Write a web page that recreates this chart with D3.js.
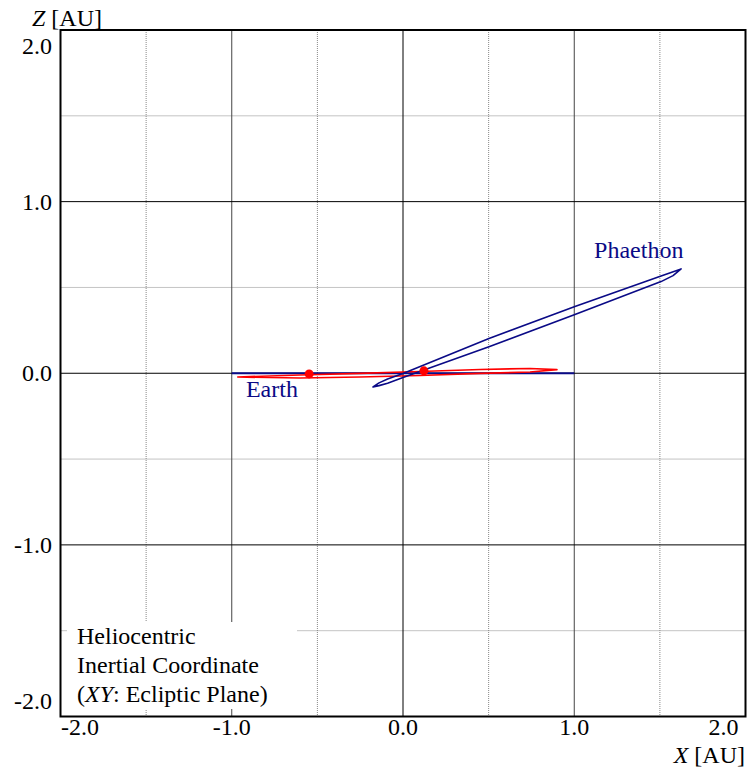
<!DOCTYPE html>
<html>
<head>
<meta charset="utf-8">
<script src="https://cdn.jsdelivr.net/npm/d3@7"></script>
<style>
  body { margin: 0; background: #fff; }
  text { font-family: "Liberation Serif", "Times New Roman", serif; font-size: 24px; }
</style>
</head>
<body>
<div id="chart"></div>
<script>
// data (AU)
var majorTicks = [-2, -1, 0, 1, 2];
var minorTicks = [-1.5, -0.5, 0.5, 1.5];
var tickLabels = ["-2.0", "-1.0", "0.0", "1.0", "2.0"];

// Earth orbit, edge on in the XZ plane
var earthOrbit = [[-1.0, 0], [1.0, 0]];

// Phaethon orbit outline (upper branch then lower branch)
var phaethonOrbit = [
  [-0.175, -0.080], [-0.140, -0.056], [-0.090, -0.034], [0.0, -0.001], [0.502, 0.203],
  [1.004, 0.389], [1.507, 0.567], [1.624, 0.608],
  [1.577, 0.569], [1.507, 0.534], [1.004, 0.342], [0.502, 0.155],
  [0.0, -0.025], [-0.090, -0.058], [-0.140, -0.072]
];

// red orbit outline
var redOrbit = [
  [-0.965, -0.022], [-0.601, -0.010], [-0.251, -0.001], [0.099, 0.010],
  [0.450, 0.022], [0.742, 0.028], [0.899, 0.021],
  [0.742, 0.007], [0.450, -0.001], [0.099, -0.013], [-0.251, -0.022],
  [-0.601, -0.028]
];

// red bodies
var redBodies = [[-0.548, -0.004], [0.122, 0.014]];

var width = 755, height = 773;
var pLeft = 60.5, pRight = 745.5, pTop = 30, pBottom = 716.5;
var navy = "#0a0a86";

var x = d3.scaleLinear().domain([-2, 2]).range([pLeft, pRight]);
var y = d3.scaleLinear().domain([-2, 2]).range([pBottom, pTop]);

var svg = d3.select("#chart").append("svg").attr("width", width).attr("height", height);

// grid
var grid = svg.append("g");
grid.selectAll(".minx").data(minorTicks).enter().append("line")
  .attr("x1", function(d) { return x(d); }).attr("x2", function(d) { return x(d); })
  .attr("y1", pTop).attr("y2", pBottom)
  .attr("stroke", "#888").attr("stroke-dasharray", "1,1");
grid.selectAll(".miny").data(minorTicks).enter().append("line")
  .attr("y1", function(d) { return y(d); }).attr("y2", function(d) { return y(d); })
  .attr("x1", pLeft).attr("x2", pRight)
  .attr("stroke", "#888").attr("stroke-dasharray", "1,1");
grid.selectAll(".majx").data(majorTicks.slice(1, 4)).enter().append("line")
  .attr("x1", function(d) { return x(d); }).attr("x2", function(d) { return x(d); })
  .attr("y1", pTop).attr("y2", pBottom)
  .attr("stroke", function(d) { return d === 0 ? "#000" : "#444"; });
grid.selectAll(".majy").data(majorTicks.slice(1, 4)).enter().append("line")
  .attr("y1", function(d) { return y(d); }).attr("y2", function(d) { return y(d); })
  .attr("x1", pLeft).attr("x2", pRight)
  .attr("stroke", "#000");

// note box
svg.append("rect").attr("x", 67).attr("y", 622).attr("width", 230).attr("height", 87).attr("fill", "#fff");
var note = svg.append("text").attr("x", 77).attr("y", 644);
note.append("tspan").attr("x", 77).text("Heliocentric");
note.append("tspan").attr("x", 77).attr("dy", 29).text("Inertial Coordinate");
note.append("tspan").attr("x", 77).attr("dy", 29).text("(");
note.append("tspan").attr("font-style", "italic").text("XY");
note.append("tspan").text(": Ecliptic Plane)");

// frame
svg.append("rect").attr("x", pLeft).attr("y", pTop).attr("width", pRight - pLeft).attr("height", pBottom - pTop)
  .attr("fill", "none").attr("stroke", "#000").attr("stroke-width", 2);

// orbits
var openLine = d3.line().x(function(d) { return x(d[0]); }).y(function(d) { return y(d[1]); });
var closedLine = d3.line().x(function(d) { return x(d[0]); }).y(function(d) { return y(d[1]); })
  .curve(d3.curveLinearClosed);

svg.append("path").attr("d", openLine(earthOrbit)).attr("fill", "none").attr("stroke", navy).attr("stroke-width", 2);
svg.append("path").attr("d", closedLine(redOrbit)).attr("fill", "none").attr("stroke", "#f00").attr("stroke-width", 1.6)
  .attr("stroke-linejoin", "round");
svg.append("path").attr("d", closedLine(phaethonOrbit)).attr("fill", "none").attr("stroke", navy).attr("stroke-width", 1.6)
  .attr("stroke-linejoin", "round");

svg.selectAll(".body").data(redBodies).enter().append("circle")
  .attr("cx", function(d) { return x(d[0]); }).attr("cy", function(d) { return y(d[1]); })
  .attr("r", 4.5).attr("fill", "#f00");

// labels
svg.append("text").attr("x", x(-0.917)).attr("y", y(-0.138)).attr("fill", navy).text("Earth");
svg.append("text").attr("x", x(1.116)).attr("y", y(0.672)).attr("fill", navy).text("Phaethon");

// tick labels
svg.selectAll(".xl").data(majorTicks).enter().append("text")
  .attr("x", function(d, i) { return i === 0 ? pLeft + 0.5 : i === 4 ? pRight - 7 : x(d); })
  .attr("y", 735)
  .attr("text-anchor", function(d, i) { return i === 0 ? "start" : i === 4 ? "end" : "middle"; })
  .text(function(d, i) { return tickLabels[i]; });
svg.selectAll(".yl").data(majorTicks).enter().append("text")
  .attr("x", 52)
  .attr("y", function(d, i) { return i === 0 ? 709 : i === 4 ? 53.5 : y(d) + 8; })
  .attr("text-anchor", "end")
  .text(function(d, i) { return tickLabels[i]; });

// axis titles
var zt = svg.append("text").attr("x", 32).attr("y", 26);
zt.append("tspan").attr("font-style", "italic").text("Z");
zt.append("tspan").text(" [AU]");
var xt = svg.append("text").attr("x", 745).attr("y", 763).attr("text-anchor", "end");
xt.append("tspan").attr("font-style", "italic").text("X");
xt.append("tspan").text(" [AU]");
</script>
</body>
</html>
